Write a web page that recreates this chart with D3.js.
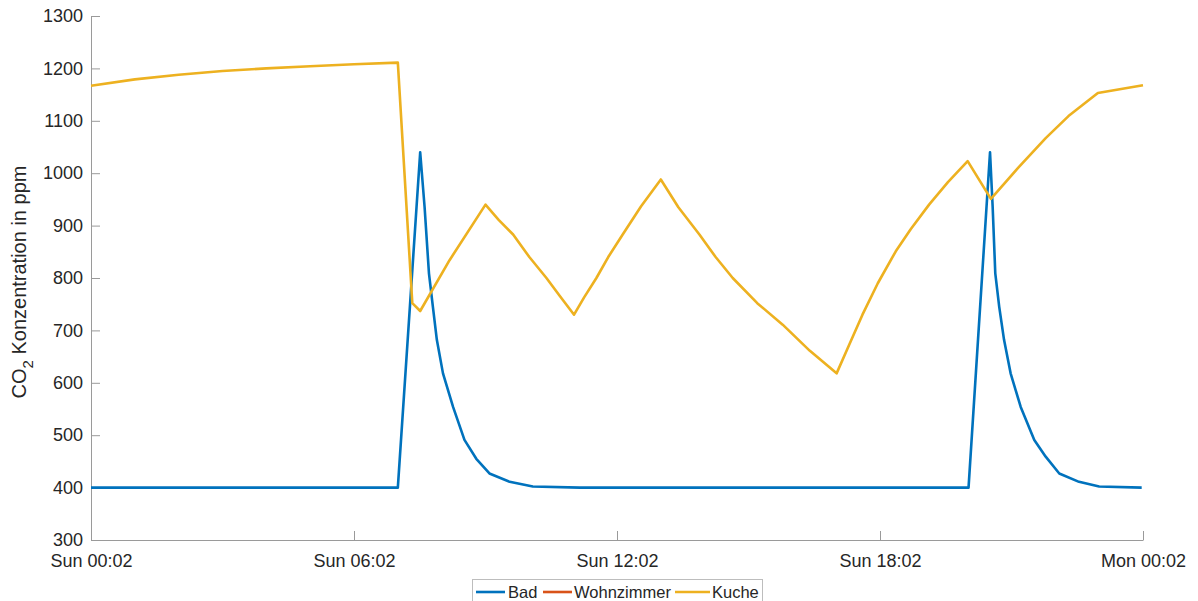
<!DOCTYPE html>
<html><head><meta charset="utf-8">
<script src="https://cdn.jsdelivr.net/npm/d3@7"></script>
<style>
html,body{margin:0;padding:0;background:#fff;}
svg{display:block;font-family:"Liberation Sans",Arial,Helvetica,sans-serif;}
</style></head>
<body>
<svg id="chart" width="1198" height="601"></svg>
<script>
// Hours since Sun 00:02
const xTickValues = [0, 6, 12, 18, 24];
const xTickLabels = ["Sun 00:02", "Sun 06:02", "Sun 12:02", "Sun 18:02", "Mon 00:02"];
const yTickValues = [300, 400, 500, 600, 700, 800, 900, 1000, 1100, 1200, 1300];

const seriesNames = ["Bad", "Wohnzimmer", "Kuche"];
const seriesColors = ["#0072BD", "#D95319", "#EDB120"];

const badHours  = [0, 7.0, 7.51, 7.61, 7.71, 7.80, 7.89, 8.03, 8.26, 8.52, 8.79, 9.09, 9.55, 10.08, 11.15,
                   20.02, 20.51, 20.57, 20.63, 20.72, 20.83, 20.98, 21.21, 21.52, 21.78, 22.09, 22.54, 23.0, 23.97];
const badValues = [400, 400, 1040, 936, 809, 745, 682, 618, 554, 491, 455, 427, 411, 402, 400,
                   400, 1040, 936, 809, 745, 682, 618, 554, 491, 459, 427, 411, 402, 400];

const wohnzimmerHours  = [];
const wohnzimmerValues = [];

const kucheHours  = [0, 1, 2, 3, 4, 5, 6, 7.0, 7.33, 7.51, 8.18, 9.0, 9.3, 9.63, 10.0, 10.39, 10.7, 11.02,
                     11.25, 11.53, 11.8, 12.13, 12.55, 13.0, 13.4, 13.88, 14.25, 14.64, 15.2, 15.78, 16.4, 17.01,
                     17.3, 17.6, 17.95, 18.36, 18.7, 19.12, 19.55, 20.0, 20.53, 21.15, 21.78, 22.3, 22.97, 24.0];
const kucheValues = [1167, 1179, 1188, 1195, 1200, 1204, 1208, 1211, 752, 737, 834, 940, 911, 883, 840, 800, 765, 730,
                     763, 800, 840, 883, 937, 988, 935, 883, 840, 800, 752, 711, 661, 618,
                     673, 730, 790, 851, 893, 940, 983, 1023, 951, 1010, 1067, 1109, 1153, 1168];

const svg = d3.select("#chart");
const L = 91, R = 1143, T = 16, B = 540;

const x = d3.scaleLinear().domain([0, 24]).range([L, R]);
const y = d3.scaleLinear().domain([300, 1300]).range([B, T]);

const axisColor = "#9a9a9a";
const textColor = "#262626";

// Y axis
const yAxis = d3.axisLeft(y).tickValues(yTickValues).tickFormat(d3.format("d"))
  .tickSizeInner(-9).tickSizeOuter(0).tickPadding(8);
const gy = svg.append("g").attr("transform", `translate(${L},0)`).call(yAxis);
gy.select(".domain").attr("stroke", axisColor);
gy.selectAll(".tick line").attr("stroke", axisColor);
gy.selectAll(".tick text").attr("fill", textColor).style("font-size", "18px");

// X axis
const xAxis = d3.axisBottom(x).tickValues(xTickValues).tickFormat((d, i) => xTickLabels[i])
  .tickSizeInner(-9).tickSizeOuter(0).tickPadding(14);
const gx = svg.append("g").attr("transform", `translate(0,${B})`).call(xAxis);
gx.select(".domain").attr("stroke", axisColor);
gx.selectAll(".tick line").attr("stroke", axisColor);
gx.selectAll(".tick text").attr("fill", textColor).style("font-size", "18px");

// Y label
const yl = svg.append("text")
  .attr("transform", `translate(26,282) rotate(-90)`)
  .attr("text-anchor", "middle").attr("fill", textColor).style("font-size", "20px");
yl.append("tspan").text("CO");
yl.append("tspan").attr("dy", 7).style("font-size", "15px").text("2");
yl.append("tspan").attr("dy", -7).text(" Konzentration in ppm");

// Lines
const line = d3.line().x(d => x(d[0])).y(d => y(d[1]));
const series = [
  {hours: badHours, values: badValues},
  {hours: wohnzimmerHours, values: wohnzimmerValues},
  {hours: kucheHours, values: kucheValues}
];
series.forEach((s, i) => {
  const pts = s.hours.map((h, j) => [h, s.values[j]]);
  if (!pts.length) return;
  svg.append("path").datum(pts).attr("d", line)
    .attr("fill", "none").attr("stroke", seriesColors[i])
    .attr("stroke-width", 2.6).attr("stroke-linejoin", "round");
});

// Legend
const lg = svg.append("g");
lg.append("rect").attr("x", 472.5).attr("y", 579.5).attr("width", 290).attr("height", 30)
  .attr("fill", "#fff").attr("stroke", "#bdbdbd");
const legendX = [[476, 505, 508], [543, 572, 574], [675, 710, 712]];
seriesNames.forEach((n, i) => {
  const [x1, x2, tx] = legendX[i];
  lg.append("line").attr("x1", x1).attr("x2", x2).attr("y1", 592).attr("y2", 592)
    .attr("stroke", seriesColors[i]).attr("stroke-width", 2.6);
  lg.append("text").attr("x", tx).attr("y", 592).attr("dy", "0.35em")
    .attr("fill", textColor).style("font-size", "16.5px").text(n);
});
</script>
</body></html>
